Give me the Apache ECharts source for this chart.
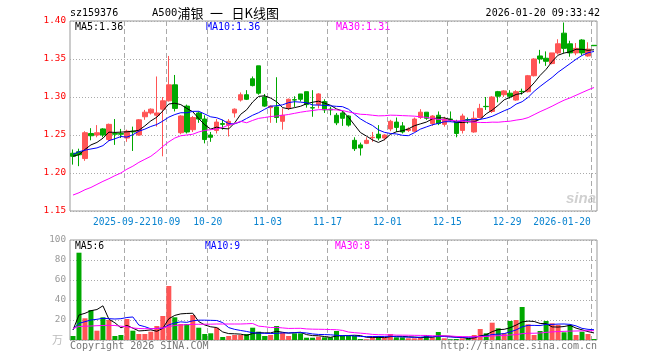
<!DOCTYPE html>
<html><head><meta charset="utf-8">
<script src="https://cdn.jsdelivr.net/npm/echarts@6/dist/echarts.min.js"></script>
<style>html,body{margin:0;padding:0;background:#fff}#c{width:660px;height:360px}</style>
</head><body><div id="c"></div>
<script>
const dates = [
'2025-09-09','2025-09-10','2025-09-11','2025-09-12','2025-09-15','2025-09-16','2025-09-17','2025-09-18','2025-09-19','2025-09-22','2025-09-23','2025-09-24','2025-09-25','2025-09-26','2025-09-29','2025-09-30',
'2025-10-09','2025-10-10','2025-10-13','2025-10-14','2025-10-15','2025-10-16','2025-10-17','2025-10-20','2025-10-21','2025-10-22','2025-10-23','2025-10-24','2025-10-27','2025-10-28','2025-10-29','2025-10-30','2025-10-31',
'2025-11-03','2025-11-04','2025-11-05','2025-11-06','2025-11-07','2025-11-10','2025-11-11','2025-11-12','2025-11-13','2025-11-14','2025-11-17','2025-11-18','2025-11-19','2025-11-20','2025-11-21','2025-11-24','2025-11-25','2025-11-26','2025-11-27','2025-11-28',
'2025-12-01','2025-12-02','2025-12-03','2025-12-04','2025-12-05','2025-12-08','2025-12-09','2025-12-10','2025-12-11','2025-12-12','2025-12-15','2025-12-16','2025-12-17','2025-12-18','2025-12-19','2025-12-22','2025-12-23','2025-12-24','2025-12-25','2025-12-26','2025-12-29','2025-12-30','2025-12-31',
'2026-01-05','2026-01-06','2026-01-07','2026-01-08','2026-01-09','2026-01-12','2026-01-13','2026-01-14','2026-01-15','2026-01-16','2026-01-19','2026-01-20'];

const openP = [1.226,1.228,1.219,1.252,1.250,1.258,1.244,1.252,1.252,1.246,
1.255,1.250,1.274,1.279,1.276,1.284,1.295,1.316,1.253,1.288,
1.257,1.279,1.271,1.250,1.256,1.265,1.263,1.279,1.296,1.303,
1.324,1.341,1.300,1.286,1.287,1.268,1.286,1.2965,1.304,1.307,
1.286,1.290,1.294,1.284,1.276,1.279,1.275,1.243,1.237,1.239,
1.2465,1.251,1.246,1.258,1.267,1.262,1.256,1.255,1.273,1.280,
1.265,1.276,1.264,1.271,1.2675,1.256,1.2702,1.254,1.273,1.2877,
1.281,1.307,1.303,1.305,1.296,1.3074,1.307,1.328,1.354,1.351,
1.344,1.358,1.384,1.370,1.358,1.375,1.354,1.368];

const closeP = [1.222,1.224,1.253,1.249,1.253,1.250,1.264,1.251,1.251,1.255,
1.254,1.270,1.280,1.284,1.279,1.295,1.316,1.285,1.275,1.254,
1.273,1.271,1.244,1.247,1.267,1.264,1.268,1.284,1.303,1.297,
1.315,1.305,1.288,1.288,1.273,1.276,1.297,1.296,1.297,1.290,
1.2855,1.304,1.283,1.283,1.266,1.272,1.263,1.232,1.233,1.243,
1.247,1.246,1.250,1.268,1.260,1.254,1.258,1.271,1.280,1.272,
1.275,1.265,1.271,1.269,1.252,1.275,1.2697,1.272,1.285,1.2873,
1.300,1.301,1.308,1.301,1.307,1.307,1.328,1.350,1.350,1.347,
1.358,1.370,1.364,1.358,1.364,1.358,1.363,1.3675];

const lowP = [1.211,1.209,1.216,1.243,1.247,1.247,1.242,1.237,1.246,1.241,
1.229,1.249,1.270,1.277,1.261,1.222,1.294,1.281,1.251,1.252,
1.254,1.266,1.239,1.241,1.252,1.257,1.248,1.273,1.294,1.296,
1.314,1.303,1.287,1.266,1.266,1.257,1.283,1.287,1.294,1.286,
1.274,1.285,1.279,1.276,1.263,1.262,1.261,1.229,1.223,1.238,
1.241,1.243,1.243,1.255,1.254,1.252,1.254,1.254,1.271,1.270,
1.262,1.263,1.261,1.2675,1.247,1.252,1.265,1.253,1.272,1.283,
1.279,1.293,1.300,1.298,1.295,1.303,1.306,1.327,1.344,1.341,
1.343,1.356,1.358,1.353,1.355,1.355,1.353,1.367];

const highP = [1.231,1.232,1.255,1.259,1.263,1.259,1.265,1.271,1.258,1.257,
1.261,1.271,1.283,1.285,1.327,1.300,1.354,1.329,1.276,1.290,
1.275,1.281,1.276,1.254,1.271,1.270,1.271,1.285,1.306,1.309,
1.327,1.341,1.304,1.289,1.326,1.285,1.298,1.301,1.304,1.307,
1.309,1.305,1.297,1.287,1.279,1.281,1.276,1.247,1.240,1.247,
1.254,1.263,1.251,1.270,1.273,1.267,1.260,1.273,1.284,1.280,
1.276,1.281,1.274,1.281,1.270,1.278,1.273,1.281,1.291,1.300,
1.301,1.308,1.309,1.309,1.309,1.311,1.329,1.351,1.362,1.360,
1.358,1.376,1.398,1.374,1.371,1.376,1.372,1.368];

// volume in 万
const volume = [4,87.3,21.7,30,9.3,22.7,20,4,5,21,
9.3,6,6,8.3,14,24,54,22.7,16,16,
25,12.3,6,6.7,12.3,3,4,5,5,6,
12.3,8.3,4,5,14,7.3,4,6.7,6.7,2.3,
2.3,3.3,2.7,2.7,9,4,4,4,1,0.7,
3.3,4,2.7,6,2.7,2.7,1.7,1.7,2.7,5,
2.7,8,1.7,0.7,1,1.7,1.7,5,11,6.7,
17.3,11.7,6.7,19,20,33,15.7,5,9,19,
16.7,15,7.7,15,5,8.3,6,1];

// MA values before enough in-window history exists
const ma5Head = [1.222,1.224,1.231,1.237];
const ma10Head = [1.2245,1.228,1.230,1.2316,1.233,1.236,1.2425,1.245,1.248];
const ma30Head = [1.171,1.174,1.178,1.181,1.185,1.189,1.1925,1.1965,1.200,1.205,1.209,1.214,1.218,1.222,1.228,1.235,1.241,1.246,1.249,1.250,1.251,1.254,1.256,1.257,1.258,1.260,1.263,1.265,1.268];
const vma5Head = [10,25,26.7,29.3];
const vma10Head = [10.7,16.7,18.3,20,20.7,21.7,21.3,21,21.3];
const vma30Head = [11.5,13.5,13.8,14,14.3,14.5,14.7,14.5,13.8,13.3,12,11.5,11.3,11.3,11.5,12,13.5,14.5,15,15.3,15.7,15.7,15.8,15.8,16,16,16,16,16];

const tickDates = ['2025-09-22','2025-10-09','2025-10-20','2025-11-03','2025-11-17','2025-12-01','2025-12-15','2025-12-29','2026-01-20'];
const tickTexts = ['2025-09-22','10-09','10-20','11-03','11-17','12-01','12-15','12-29','2026-01-20'];
const priceTicks = [1.15,1.20,1.25,1.30,1.35,1.40];
const volTicks = [0,20,40,60,80,100];

const legendPrice = ['MA5:1.36','MA10:1.36','MA30:1.31'];
const legendVol = ['MA5:6','MA10:9','MA30:8'];

const UP = '#ff5555', DOWN = '#00a800';
const MONO = "'DejaVu Sans Mono', monospace";
const CJK = "'Noto Sans CJK SC', sans-serif";

function movingAvg(arr, n, head) {
  return arr.map((_, i) => {
    if (i < n - 1) return head[i];
    let s = 0;
    for (let k = i - n + 1; k <= i; k++) s += arr[k];
    return +(s / n).toFixed(4);
  });
}

const kData = dates.map((d, i) => [openP[i], closeP[i], lowP[i], highP[i]]);
const volData = volume.map((v, i) => ({ value: v, itemStyle: { color: closeP[i] >= openP[i] ? UP : DOWN } }));
const edges = dates.concat(['end']);
const isTick = (idx, val) => tickDates.indexOf(val) >= 0;

const chart = echarts.init(document.getElementById('c'), null, { renderer: 'canvas' });

const maLine = (name, data, color, xi, yi) => ({
  name, type: 'line', data, xAxisIndex: xi, yAxisIndex: yi, symbol: 'none', silent: true,
  lineStyle: { width: 1, color }, z: 5
});

const LBL = { color: '#0a84d0', fontFamily: MONO, fontSize: 9.6 };

chart.setOption({
  animation: false,
  backgroundColor: '#fff',
  grid: [
    { left: 70, right: 63, top: 21, height: 190, show: true, borderColor: '#999', borderWidth: 1 },
    { left: 70, right: 63, top: 240, height: 100, show: true, borderColor: '#999', borderWidth: 1 }
  ],
  xAxis: [
    { type: 'category', gridIndex: 0, data: dates, boundaryGap: true, show: false, position: 'top' },
    { type: 'category', gridIndex: 0, data: edges, boundaryGap: false, position: 'bottom',
      axisLine: { show: false }, axisTick: { show: false },
      axisLabel: Object.assign({ interval: isTick, margin: 6, hideOverlap: false,
        formatter: (val) => {
          const t = tickTexts[tickDates.indexOf(val)];
          if (val === '2026-01-20') return '{r|' + t + '}';
          if (val === '2025-09-22') return '{f|' + t + '}';
          return t;
        },
        rich: { r: Object.assign({ padding: [0, 58, 0, 0] }, LBL), f: Object.assign({ padding: [0, 4, 0, 0] }, LBL) }
      }, LBL),
      splitLine: { show: true, interval: isTick, lineStyle: { color: '#aaa', type: [5, 3], width: 1 } } },
    { type: 'category', gridIndex: 1, data: dates, boundaryGap: true, show: false, position: 'top' },
    { type: 'category', gridIndex: 1, data: edges, boundaryGap: false, position: 'bottom',
      axisLine: { show: false }, axisTick: { show: false }, axisLabel: { show: false },
      splitLine: { show: true, interval: isTick, lineStyle: { color: '#aaa', type: [5, 3], width: 1 } } }
  ],
  yAxis: [
    { type: 'value', gridIndex: 0, min: priceTicks[0], max: priceTicks[priceTicks.length - 1], interval: 0.05,
      axisLine: { show: false }, axisTick: { show: false },
      axisLabel: { color: '#ff0000', fontFamily: MONO, fontSize: 9.3, margin: 4, formatter: v => v.toFixed(2) },
      splitLine: { show: true, lineStyle: { color: '#aaa', type: [1, 2] } } },
    { type: 'value', gridIndex: 1, min: volTicks[0], max: volTicks[volTicks.length - 1], interval: 20,
      axisLine: { show: false }, axisTick: { show: false },
      axisLabel: { color: '#999', fontFamily: MONO, fontSize: 9.3, margin: 4, formatter: v => v === 0 ? '' : String(v) },
      splitLine: { show: true, lineStyle: { color: '#aaa', type: [1, 2] } } }
  ],
  series: [
    { name: 'K', type: 'candlestick', xAxisIndex: 0, yAxisIndex: 0, data: kData, barWidth: 5,
      itemStyle: { color: UP, color0: DOWN, borderColor: UP, borderColor0: DOWN, borderWidth: 1 } },
    maLine('MA5', movingAvg(closeP, 5, ma5Head), '#000000', 0, 0),
    maLine('MA10', movingAvg(closeP, 10, ma10Head), '#0000ff', 0, 0),
    maLine('MA30', movingAvg(closeP, 30, ma30Head), '#ff00ff', 0, 0),
    { name: 'VOL', type: 'bar', xAxisIndex: 2, yAxisIndex: 1, data: volData, barWidth: 5 },
    maLine('VMA5', movingAvg(volume, 5, vma5Head), '#000000', 2, 1),
    maLine('VMA10', movingAvg(volume, 10, vma10Head), '#0000ff', 2, 1),
    maLine('VMA30', movingAvg(volume, 30, vma30Head), '#ff00ff', 2, 1)
  ],
  graphic: [
    { type: 'text', x: 70, y: 13, style: { text: 'sz159376', font: '10px ' + MONO, fill: '#000', verticalAlign: 'middle' } },
    { type: 'text', x: 152, y: 13, style: { text: 'A500', font: '10.5px ' + MONO, fill: '#000', verticalAlign: 'middle' } },
    { type: 'text', x: 177.5, y: 13, style: { text: '浦银', font: '13px ' + CJK, fill: '#000', verticalAlign: 'middle' } },
    { type: 'text', x: 210, y: 13, style: { text: '一', font: '13px ' + CJK, fill: '#000', verticalAlign: 'middle' } },
    { type: 'text', x: 231.5, y: 13, style: { text: '日K线图', font: '13px ' + CJK, fill: '#000', verticalAlign: 'middle' } },
    { type: 'text', x: 600, y: 13, style: { text: '2026-01-20 09:33:42', font: '10px ' + MONO, fill: '#000', align: 'right', verticalAlign: 'middle' } },
    { type: 'text', x: 75, y: 27, style: { text: legendPrice[0], font: '10px ' + MONO, fill: '#000', verticalAlign: 'middle' } },
    { type: 'text', x: 206, y: 27, style: { text: legendPrice[1], font: '10px ' + MONO, fill: '#0000ff', verticalAlign: 'middle' } },
    { type: 'text', x: 336, y: 27, style: { text: legendPrice[2], font: '10px ' + MONO, fill: '#ff00ff', verticalAlign: 'middle' } },
    { type: 'text', x: 75, y: 246.5, style: { text: legendVol[0], font: '9.7px ' + MONO, fill: '#000', verticalAlign: 'middle' } },
    { type: 'text', x: 205, y: 246.5, style: { text: legendVol[1], font: '9.7px ' + MONO, fill: '#0000ff', verticalAlign: 'middle' } },
    { type: 'text', x: 335, y: 246.5, style: { text: legendVol[2], font: '9.7px ' + MONO, fill: '#ff00ff', verticalAlign: 'middle' } },
    { type: 'text', x: 63, y: 340, style: { text: '万', font: '11px ' + CJK, fill: '#bbb', align: 'right', verticalAlign: 'middle' } },
    { type: 'text', x: 70, y: 346.5, style: { text: 'Copyright 2026 SINA.COM', font: '10px ' + MONO, fill: '#777', verticalAlign: 'middle' } },
    { type: 'text', x: 597, y: 346.5, style: { text: 'http://finance.sina.com.cn', font: '10px ' + MONO, fill: '#777', align: 'right', verticalAlign: 'middle' } },
    { type: 'text', x: 596, y: 199, style: { text: 'sina', font: 'italic bold 15px Arial, sans-serif', fill: 'rgba(150,150,150,0.45)', align: 'right', verticalAlign: 'middle' } }
  ]
});
</script>
</body></html>
